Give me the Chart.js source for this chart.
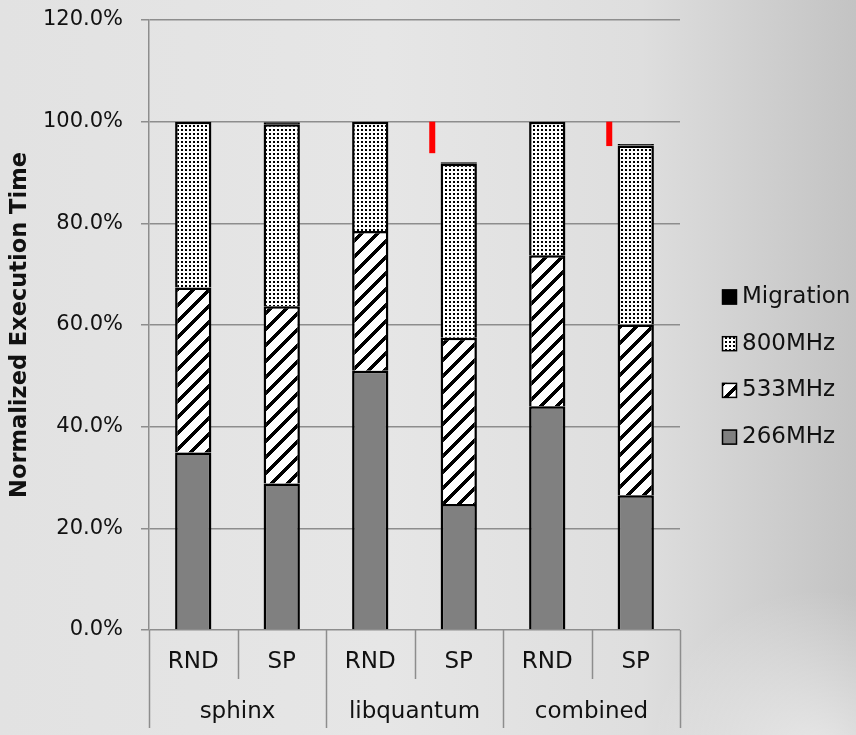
<!DOCTYPE html>
<html>
<head>
<meta charset="utf-8">
<script src="https://cdn.jsdelivr.net/npm/chart.js@4/dist/chart.umd.min.js"></script>
<style>
  html, body { margin: 0; padding: 0; background: #e2e2e2; }
  canvas { display: block; }
</style>
</head>
<body>
<canvas id="chart" width="856" height="735"></canvas>
<script>
// Configurations along the x axis, and the benchmark each pair belongs to
const categories = ['RND', 'SP', 'RND', 'SP', 'RND', 'SP'];
const groups = ['sphinx', 'libquantum', 'combined'];

// Share of normalized execution time spent at each frequency (percent)
const mhz266 = [34.9, 28.8, 51.0, 24.8, 44.0, 26.5];
const mhz533 = [32.5, 34.9, 27.5, 32.7, 29.7, 33.6];
const mhz800 = [32.6, 35.8, 21.5, 34.2, 26.3, 35.2];
const migration = [0, 0.4, 0, 0.3, 0, 0.3];

// Red markers: span from the baseline (100%) down to the reduced time
const savingMarks = [null, null, null, [93.8, 100], null, [95.2, 100]];

// Y axis range and step (percent)
const yMin = 0, yMax = 120, yStep = 20;

const FONT = '"DejaVu Sans", sans-serif';
const GRID = '#8d8d8d';

function makeStripes() {
  const c = document.createElement('canvas');
  c.width = 16; c.height = 16;
  const g = c.getContext('2d');
  g.fillStyle = '#ffffff';
  g.fillRect(0, 0, 16, 16);
  g.fillStyle = '#000000';
  for (let y = 0; y < 16; y++) {
    for (let x = 0; x < 16; x++) {
      if (((x + y) % 16) < 5) g.fillRect(x, y, 1, 1);
    }
  }
  return g.createPattern(c, 'repeat');
}

function makeDots() {
  const c = document.createElement('canvas');
  c.width = 4; c.height = 4;
  const g = c.getContext('2d');
  g.fillStyle = '#ffffff';
  g.fillRect(0, 0, 4, 4);
  g.fillStyle = '#000000';
  g.fillRect(1, 1, 2, 2);
  return g.createPattern(c, 'repeat');
}

const stripes = makeStripes();
const dots = makeDots();

const background = {
  id: 'background',
  beforeDraw(chart) {
    const { ctx, width, height } = chart;
    ctx.save();
    const lg = ctx.createLinearGradient(0, 0, width, 0);
    lg.addColorStop(0, '#e2e2e2');
    lg.addColorStop(0.45, '#e6e6e6');
    lg.addColorStop(0.75, '#dedede');
    lg.addColorStop(1, '#c3c3c3');
    ctx.fillStyle = lg;
    ctx.fillRect(0, 0, width, height);
    const rg = ctx.createRadialGradient(820, 760, 10, 820, 760, 170);
    rg.addColorStop(0, 'rgba(255,255,255,0.55)');
    rg.addColorStop(1, 'rgba(255,255,255,0)');
    ctx.fillStyle = rg;
    ctx.fillRect(0, 0, width, height);
    ctx.restore();
  }
};

// Separator lines under the axis plus the benchmark names
const groupAxis = {
  id: 'groupAxis',
  afterDraw(chart) {
    const { ctx } = chart;
    const xs = chart.scales.x;
    const top = xs.top;
    const n = categories.length;
    ctx.save();
    ctx.strokeStyle = GRID;
    ctx.lineWidth = 1.5;
    for (let i = 0; i <= n; i++) {
      let px;
      if (i === 0) px = xs.left;
      else if (i === n) px = xs.right;
      else px = (xs.getPixelForValue(i - 1) + xs.getPixelForValue(i)) / 2;
      const bottom = (i % 2 === 0) ? top + 98 : top + 49;
      ctx.beginPath();
      ctx.moveTo(Math.round(px) + 0.5, top);
      ctx.lineTo(Math.round(px) + 0.5, bottom);
      ctx.stroke();
    }
    ctx.fillStyle = '#111111';
    ctx.font = '23px ' + FONT;
    ctx.textAlign = 'center';
    ctx.textBaseline = 'middle';
    groups.forEach((name, g) => {
      const cx = (xs.getPixelForValue(2 * g) + xs.getPixelForValue(2 * g + 1)) / 2;
      ctx.fillText(name, cx, top + 82);
    });
    ctx.restore();
  }
};

// Red markers beside the SP bars
const markers = {
  id: 'markers',
  afterDatasetsDraw(chart) {
    const { ctx } = chart;
    const xs = chart.scales.x, ys = chart.scales.y;
    ctx.save();
    ctx.fillStyle = '#ff0000';
    savingMarks.forEach((m, i) => {
      if (!m) return;
      const cx = xs.getPixelForValue(i) - 26.5;
      const y1 = ys.getPixelForValue(m[1]);
      const y0 = ys.getPixelForValue(m[0]);
      ctx.fillRect(cx - 3, y1, 6, y0 - y1);
    });
    ctx.restore();
  }
};

// Legend at the right, listed top-down from Migration to 266MHz
const sideLegend = {
  id: 'sideLegend',
  afterDraw(chart) {
    const { ctx } = chart;
    const order = [3, 2, 1, 0];
    ctx.save();
    ctx.font = '23px ' + FONT;
    ctx.textBaseline = 'middle';
    ctx.textAlign = 'left';
    order.forEach((di, k) => {
      const ds = chart.data.datasets[di];
      const cy = 297 + k * 46.7;
      ctx.fillStyle = ds.backgroundColor;
      ctx.fillRect(722, cy - 7.5, 15, 15);
      ctx.strokeStyle = '#000';
      ctx.lineWidth = 1.5;
      ctx.strokeRect(722.5, cy - 7, 14, 14);
      ctx.fillStyle = '#111111';
      ctx.fillText(ds.label, 742, cy);
    });
    ctx.restore();
  }
};

const barStyle = {
  borderColor: '#000000',
  borderWidth: 2.5,
  borderSkipped: 'start',
  barPercentage: 0.41,
  categoryPercentage: 1.0
};

new Chart(document.getElementById('chart'), {
  type: 'bar',
  data: {
    labels: categories,
    datasets: [
      Object.assign({ label: '266MHz', data: mhz266, backgroundColor: '#808080' }, barStyle),
      Object.assign({ label: '533MHz', data: mhz533, backgroundColor: stripes }, barStyle),
      Object.assign({ label: '800MHz', data: mhz800, backgroundColor: dots }, barStyle),
      Object.assign({ label: 'Migration', data: migration, backgroundColor: '#000000' }, barStyle)
    ]
  },
  options: {
    responsive: false,
    animation: false,
    devicePixelRatio: 1,
    layout: { padding: { left: 0, right: 176, top: 20, bottom: 0 } },
    plugins: {
      legend: { display: false },
      tooltip: { enabled: false }
    },
    scales: {
      x: {
        stacked: true,
        grid: { display: false, drawTicks: false },
        border: { display: false },
        ticks: {
          color: '#111111',
          font: { family: FONT, size: 23 },
          padding: 18,
          maxRotation: 0,
          autoSkip: false
        },
        afterFit(s) { s.height = 105; s.paddingLeft = 0; s.paddingRight = 0; }
      },
      y: {
        stacked: true,
        min: yMin,
        max: yMax,
        grid: { color: GRID, lineWidth: 1.5, tickLength: 8 },
        border: { color: GRID, width: 1.5 },
        ticks: {
          stepSize: yStep,
          color: '#111111',
          font: { family: FONT, size: 21 },
          padding: 18,
          callback: v => v.toFixed(1) + '%'
        },
        title: {
          display: true,
          text: 'Normalized Execution Time',
          color: '#111111',
          font: { family: FONT, size: 22.5, weight: 'bold' },
          padding: { top: 7, bottom: 0 }
        },
        afterFit(s) { s.width = 149; s.paddingTop = 0; s.paddingBottom = 0; }
      }
    }
  },
  plugins: [background, groupAxis, markers, sideLegend]
});
</script>
</body>
</html>
